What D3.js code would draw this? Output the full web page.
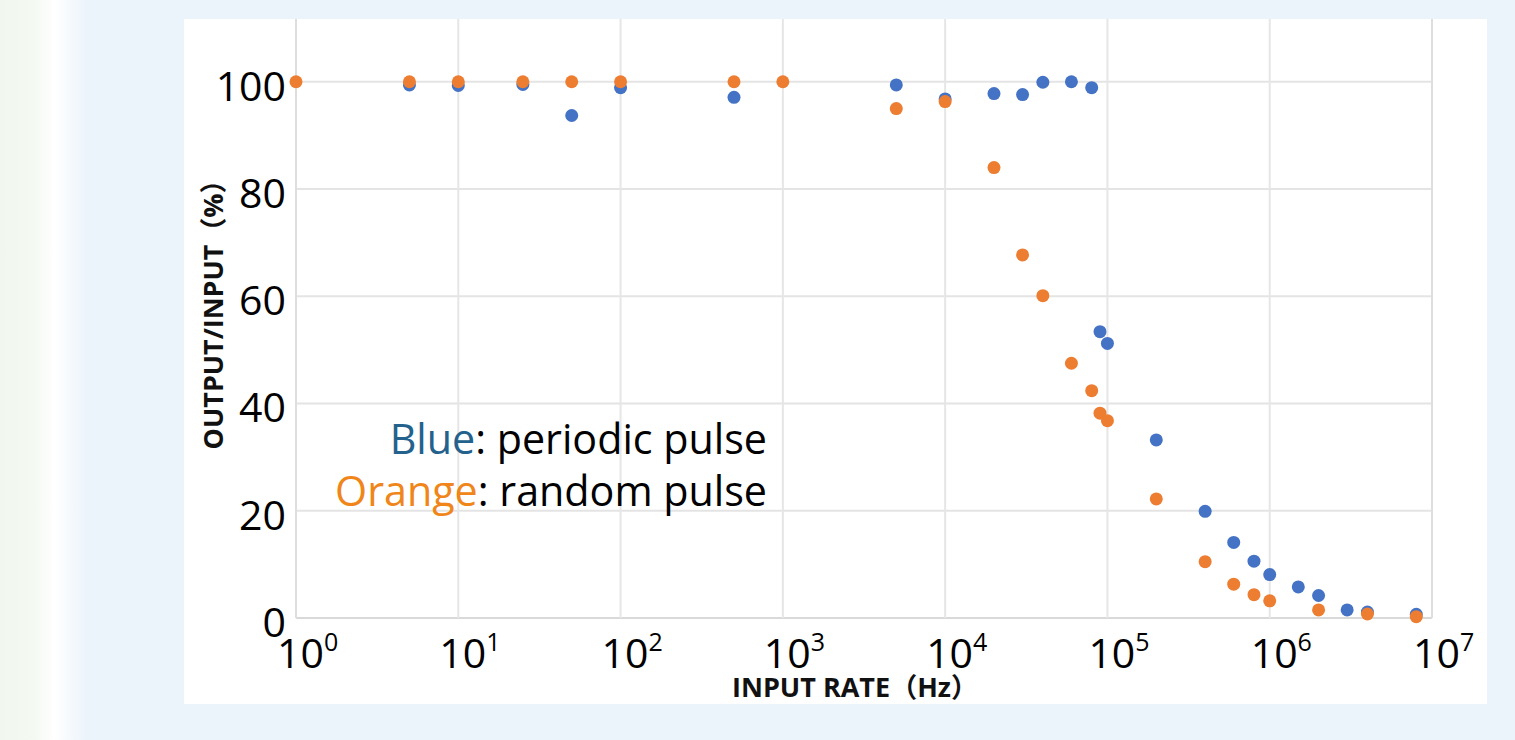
<!DOCTYPE html>
<html>
<head>
<meta charset="utf-8">
<script src="https://cdn.jsdelivr.net/npm/d3@7"></script>
<style>
  html, body { margin: 0; padding: 0; background: #ebf3fb; }
  svg { display: block; }
  text { font-family: "Open Sans", "Noto Sans", "Noto Sans CJK SC", sans-serif; }
</style>
</head>
<body>
<svg id="chart" width="1515" height="740"></svg>
<script>
// ---- Data ----
const blueX = [5, 10, 25, 50, 100, 500, 5000, 10000, 20000, 30000, 40000, 60000, 80000, 90000, 100000,
               200000, 400000, 600000, 800000, 1e6, 1.5e6, 2e6, 3e6, 4e6, 8e6];
const blueY = [99.4, 99.3, 99.5, 93.7, 98.9, 97.1, 99.4, 96.8, 97.8, 97.6, 99.9, 100, 98.9, 53.4, 51.2,
               33.2, 19.9, 14.1, 10.6, 8.1, 5.8, 4.2, 1.5, 1.1, 0.7];
const orangeX = [1, 5, 10, 25, 50, 100, 500, 1000, 5000, 10000, 20000, 30000, 40000, 60000, 80000, 90000,
                 100000, 200000, 400000, 600000, 800000, 1e6, 2e6, 4e6, 8e6];
const orangeY = [100, 100, 100, 100, 100, 100, 100, 100, 95.0, 96.3, 84.0, 67.7, 60.1, 47.5, 42.4, 38.2,
                 36.8, 22.2, 10.5, 6.3, 4.35, 3.2, 1.5, 0.75, 0.25];
const xTickExponents = [0, 1, 2, 3, 4, 5, 6, 7];
const yTicks = [0, 20, 40, 60, 80, 100];
const xTitle = "INPUT RATE（Hz）";
const yTitle = "OUTPUT/INPUT（%）";
const legendLines = [
  { key: "Blue", rest: ": periodic pulse", color: "#24628e" },
  { key: "Orange", rest: ": random pulse", color: "#f08519" }
];

// ---- Layout ----
const svg = d3.select("#chart");
const W = 1515, H = 740;
const plot = { left: 296, right: 1432, top: 19, bottom: 618 };
const panel = { x: 184, y: 19, w: 1303, h: 685 };

const x = d3.scaleLog().domain([1, 1e7]).range([plot.left, plot.right]);
const y = d3.scaleLinear().domain([0, 111.7]).range([plot.bottom, plot.top]);

// scale a text's font-size so that its rendered width matches a target width
function fitWidth(sel, target) {
  const node = sel.node();
  const fs = parseFloat(sel.attr("font-size"));
  const w = node.getComputedTextLength();
  if (w > 0) sel.attr("font-size", (fs * target / w).toFixed(2));
}

// background
const defs = svg.append("defs");
const grad = defs.append("linearGradient").attr("id", "leftfade").attr("x1", "0").attr("x2", "1").attr("y1", "0").attr("y2", "0");
grad.append("stop").attr("offset", "0").attr("stop-color", "#f1f7ee");
grad.append("stop").attr("offset", "0.38").attr("stop-color", "#f4f9f2");
grad.append("stop").attr("offset", "0.62").attr("stop-color", "#ffffff");
grad.append("stop").attr("offset", "1").attr("stop-color", "#ebf3fb");
svg.append("rect").attr("x", 0).attr("y", 0).attr("width", W).attr("height", H).attr("fill", "#ebf3fb");
svg.append("rect").attr("x", 0).attr("y", 0).attr("width", 88).attr("height", H).attr("fill", "url(#leftfade)");
svg.append("rect").attr("x", panel.x).attr("y", panel.y).attr("width", panel.w).attr("height", panel.h).attr("fill", "#ffffff");

// gridlines
const grid = svg.append("g");
grid.selectAll("line.h").data(yTicks).join("line")
  .attr("x1", plot.left).attr("x2", plot.right)
  .attr("y1", d => y(d)).attr("y2", d => y(d))
  .attr("stroke", d => d === 0 ? "#d9d9d9" : "#e4e4e4").attr("stroke-width", 2);
grid.selectAll("line.v").data(xTickExponents).join("line")
  .attr("x1", d => x(Math.pow(10, d))).attr("x2", d => x(Math.pow(10, d)))
  .attr("y1", plot.top).attr("y2", plot.bottom)
  .attr("stroke", (d, i) => (i === 0 || i === xTickExponents.length - 1) ? "#dedede" : "#e6e6e6")
  .attr("stroke-width", 2);

// y tick labels
svg.append("g").selectAll("text").data(yTicks).join("text")
  .attr("x", 286).attr("y", d => y(d) + 19)
  .attr("text-anchor", "end")
  .attr("font-size", 41).attr("fill", "#000")
  .text(d => d);

// x tick labels (10 with superscript)
const xl = svg.append("g").selectAll("text").data(xTickExponents).join("text")
  .attr("x", d => x(Math.pow(10, d)) - 19).attr("y", 668)
  .attr("font-size", 41).attr("fill", "#000");
xl.append("tspan").text("10");
xl.append("tspan").attr("font-size", 25).attr("dy", -17).text(d => d);

// axis titles
const xt = svg.append("text").attr("x", 855).attr("y", 697)
  .attr("text-anchor", "middle").attr("font-size", 25).attr("font-weight", 700).attr("fill", "#111")
  .text(xTitle);
fitWidth(xt, 246);
const yt = svg.append("text").attr("transform", "translate(223,308) rotate(-90)")
  .attr("text-anchor", "middle").attr("font-size", 25).attr("font-weight", 700).attr("fill", "#111")
  .text(yTitle);
fitWidth(yt, 283);

// legend text (right aligned)
const lg = svg.append("g").selectAll("text").data(legendLines).join("text")
  .attr("x", 767).attr("y", (d, i) => 454 + i * 52)
  .attr("text-anchor", "end").attr("font-size", 38).attr("fill", "#000");
lg.append("tspan").attr("fill", d => d.color).text(d => d.key);
lg.append("tspan").text(d => d.rest);
{
  const second = d3.select(lg.nodes()[1]);
  const fs = parseFloat(second.attr("font-size"));
  const w = second.node().getComputedTextLength();
  if (w > 0) lg.attr("font-size", (fs * 432 / w).toFixed(2));
}

// points
const blue = blueX.map((v, i) => ({ x: v, y: blueY[i] }));
const orange = orangeX.map((v, i) => ({ x: v, y: orangeY[i] }));
svg.append("g").selectAll("circle").data(blue).join("circle")
  .attr("cx", d => x(d.x)).attr("cy", d => y(d.y)).attr("r", 6.5)
  .attr("fill", "#4472c4");
svg.append("g").selectAll("circle").data(orange).join("circle")
  .attr("cx", d => x(d.x)).attr("cy", d => y(d.y)).attr("r", 6.5)
  .attr("fill", "#ed7d31");
</script>
</body>
</html>
